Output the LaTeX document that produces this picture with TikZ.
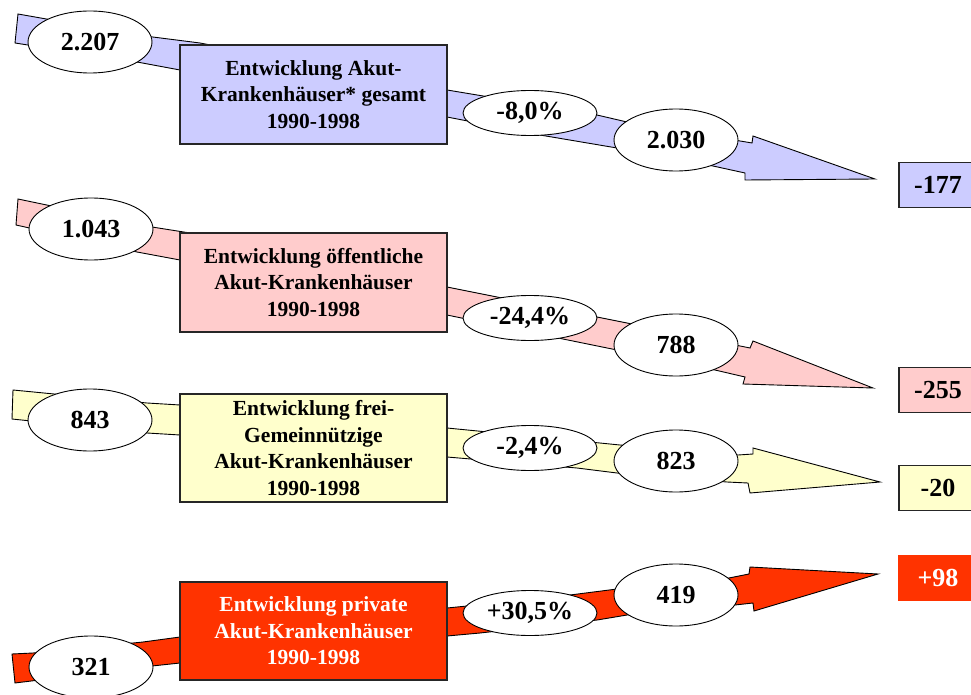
\documentclass[tikz,border=0pt]{standalone}
\usepackage{fontspec}
\setmainfont{Liberation Serif}
\usetikzlibrary{shapes.geometric}
\definecolor{bandblue}{HTML}{CCCCFF}
\definecolor{bandpink}{HTML}{FFCCCC}
\definecolor{bandyellow}{HTML}{FFFFCC}
\definecolor{bandred}{HTML}{FF3300}
\tikzset{
  band/.style={draw=black, line width=0.9pt, line join=miter},
  valoval/.style={ellipse, draw=black, line width=0.9pt, fill=white, inner sep=0pt,
    minimum width=124pt, minimum height=62pt, font=\fontsize{26}{30}\selectfont\bfseries},
  pctoval/.style={ellipse, draw=black, line width=0.9pt, fill=white, inner sep=0pt,
    minimum width=134pt, minimum height=45pt, font=\fontsize{26}{30}\selectfont\bfseries},
  titlebox/.style={rectangle, draw=black!85, line width=1.2pt, inner sep=0pt,
    minimum width=267pt, align=center, font=\fontsize{21.5}{26.5}\selectfont\bfseries},
  diffbox/.style={rectangle, draw=black!85, line width=1.2pt, inner sep=0pt,
    minimum width=82pt, minimum height=45pt, font=\fontsize{26}{30}\selectfont\bfseries}
}
\begin{document}
\begin{tikzpicture}[x=1pt, y=-1pt]
\useasboundingbox (0,0) rectangle (971,695);
\clip (0,0) rectangle (971,695);

% ---- Akut-Krankenhäuser gesamt ----
\filldraw[band, fill=bandblue]
  (18,14) -- (137,35) -- (200,43) -- (447,90) -- (597,115) -- (627,122) -- (752,143)
  -- (753,136) -- (875,179) -- (745,180) -- (745,173)
  -- (713,166) -- (617,148) -- (540,135) -- (447,117) -- (180,70) -- (137,62) -- (15,43) -- cycle;
\node[valoval] (g0) at (90,42) {2.207};
\node[titlebox, fill=bandblue, minimum height=99pt] (gt) at (313.5,94.5)
  {Entwicklung Akut-\\Krankenhäuser* gesamt\\1990-1998};
\node[pctoval] (gp) at (530,113) {-8,0\%};
\node[valoval] (g1) at (676,140) {2.030};
\node[diffbox, fill=bandblue] (gd) at (940,185) {\hspace*{-4pt}-177};

% ---- öffentliche ----
\filldraw[band, fill=bandpink]
  (18,199) -- (152,227) -- (190,233) -- (447,287) -- (597,317) -- (627,323) -- (750,348)
  -- (753,341) -- (873,388) -- (743,384) -- (745,377)
  -- (715,370) -- (617,350) -- (563,339) -- (447,315) -- (180,260) -- (137,252) -- (16,225) -- cycle;
\node[valoval] (o0) at (91,229) {1.043};
\node[titlebox, fill=bandpink, minimum height=99pt] (ot) at (313.5,282.5)
  {Entwicklung öffentliche\\Akut-Krankenhäuser\\1990-1998};
\node[pctoval] (op) at (530,318) {-24,4\%};
\node[valoval] (o1) at (676,345) {788};
\node[diffbox, fill=bandpink] (od) at (940,390) {\hspace*{-4pt}-255};

% ---- frei-gemeinnützige ----
\filldraw[band, fill=bandyellow]
  (13,390) -- (147,403) -- (180,405) -- (447,428) -- (590,442) -- (620,445) -- (738,455)
  -- (753,454) -- (753,448) -- (880,482) -- (750,493) -- (748,483)
  -- (727,482) -- (617,473) -- (577,468) -- (447,457) -- (180,435) -- (147,433) -- (12,419) -- cycle;
\node[valoval] (f0) at (90,420) {843};
\node[titlebox, fill=bandyellow, minimum height=108pt] (ft) at (313.5,448)
  {Entwicklung frei-\\Gemeinnützige\\Akut-Krankenhäuser\\1990-1998};
\node[pctoval] (fp) at (530,448) {-2,4\%};
\node[valoval] (f1) at (676,461) {823};
\node[diffbox, fill=bandyellow] (fd) at (940,488) {\hspace*{-4pt}-20};

% ---- private ----
\filldraw[band, fill=bandred]
  (12,654) -- (33,653) -- (143,642) -- (180,637) -- (447,608) -- (467,606) -- (570,595)
  -- (617,589) -- (729,578) -- (749,574)
  -- (750,567) -- (878,574) -- (754,611) -- (753,603)
  -- (735,605) -- (627,615) -- (597,620) -- (480,633) -- (447,636) -- (180,663) -- (152,666) -- (15,683) -- cycle;
\node[valoval] (p0) at (91,667) {321};
\node[titlebox, fill=bandred, text=white, minimum height=98pt] (pt) at (313.5,631)
  {Entwicklung private\\Akut-Krankenhäuser\\1990-1998};
\node[pctoval] (pp) at (530,613) {+30,5\%};
\node[valoval] (p1) at (676,595) {419};
\node[diffbox, fill=bandred, draw=bandred, text=white] (pd) at (940,578) {\hspace*{-4pt}+98};
\end{tikzpicture}
\end{document}
